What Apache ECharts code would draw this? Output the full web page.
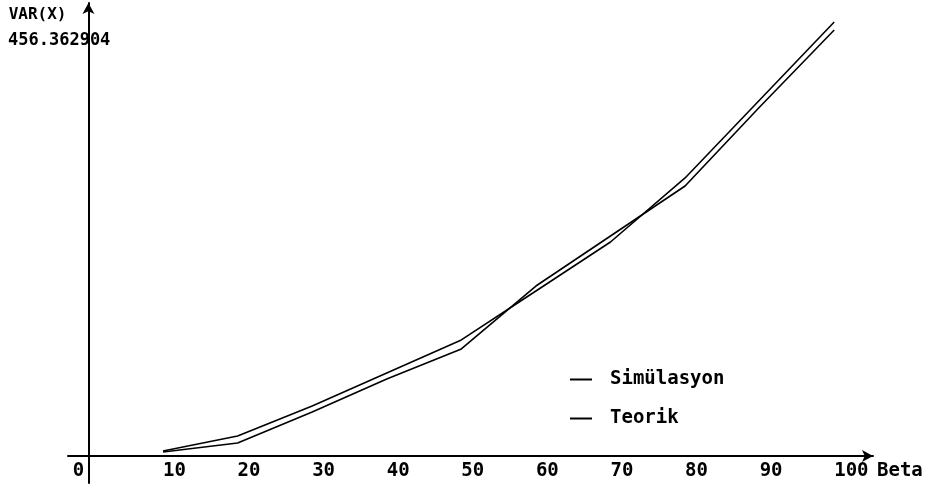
<!DOCTYPE html>
<html>
<head>
<meta charset="utf-8">
<script src="https://cdn.jsdelivr.net/npm/echarts@6/dist/echarts.min.js"></script>
<style>
  html, body { margin: 0; padding: 0; background: #fff; }
  #chart { width: 928px; height: 493px; }
</style>
</head>
<body>
<div id="chart"></div>
<script>
// values
let betaValues = [10, 20, 30, 40, 50, 60, 70, 80, 90, 100]
let simulasyon = [4.4, 14.3, 48.4, 84.7, 117.7, 186.9, 241.9, 296.9, 383.8, 468.4]
let teorik = [5.5, 22.0, 55.0, 91.3, 127.6, 181.4, 235.3, 305.7, 391.5, 477.2]
let xTickValues = [10, 20, 30, 40, 50, 60, 70, 80, 90, 100]
// the "0" of the origin is printed left of the vertical axis
let originLabelAt = -2.1
let yTickValues = [456.362904]
let yTickLabels = ["456.362904"]

let font = "DejaVu Sans Mono"

let pairs = (xs, ys) => xs.map((x, i) => [x, ys[i]])

let chart = echarts.init(document.getElementById("chart"), null, { renderer: "canvas" })

let axisLine = {
    onZero: true,
    symbol: ["none", "arrow"],
    symbolSize: [9, 11],
    lineStyle: { color: "#000", width: 2 }
}

// labels stay at the grid edge, the lines sit on zero,
// so the label margins account for that gap
let option = {
    backgroundColor: "#fff",
    animation: false,
    grid: { left: 68, right: 55, top: 3, bottom: 10, outerBoundsMode: "none" },
    legend: {
        orient: "vertical",
        left: 565,
        top: 364,
        icon: "rect",
        itemWidth: 22,
        itemHeight: 2,
        itemGap: 18,
        textStyle: {
            fontFamily: font, fontSize: 19, fontWeight: "bold", color: "#000",
            lineHeight: 21, padding: [0, 0, 0, 13]
        },
        data: ["Simülasyon", "Teorik"]
    },
    xAxis: {
        type: "value",
        min: -2.74,
        max: 105.2,
        name: "Beta",
        nameLocation: "end",
        nameGap: 4,
        nameTextStyle: {
            fontFamily: font, fontSize: 19, fontWeight: "bold", color: "#000",
            verticalAlign: "top", padding: [6, 0, 0, 0]
        },
        axisLine: axisLine,
        axisTick: { show: false },
        splitLine: { show: false },
        axisLabel: {
            customValues: [originLabelAt].concat(xTickValues),
            formatter: (v) => v === originLabelAt ? "0" : String(v),
            showMinLabel: true,
            showMaxLabel: true,
            align: "left",
            margin: -21,
            fontFamily: font, fontSize: 19, fontWeight: "bold", color: "#000"
        }
    },
    yAxis: {
        type: "value",
        min: -29.7,
        max: 498.1,
        name: "VAR(X)",
        nameLocation: "end",
        nameGap: -12,
        nameTextStyle: {
            fontFamily: font, fontSize: 16, fontWeight: "bold", color: "#000",
            align: "right", verticalAlign: "middle", padding: [0, 22, 0, 0]
        },
        axisLine: axisLine,
        axisTick: { show: false },
        splitLine: { show: false },
        axisLabel: {
            customValues: yTickValues,
            formatter: (v) => yTickLabels[yTickValues.indexOf(v)] ?? "",
            align: "left",
            margin: 60,
            fontFamily: font, fontSize: 17, fontWeight: "bold", color: "#000"
        }
    },
    series: [{
        name: "Simülasyon",
        type: "line",
        data: pairs(betaValues, simulasyon),
        showSymbol: false,
        symbol: "none",
        color: "#000",
        lineStyle: { color: "#000", width: 1.6 }
    }, {
        name: "Teorik",
        type: "line",
        data: pairs(betaValues, teorik),
        showSymbol: false,
        symbol: "none",
        color: "#000",
        lineStyle: { color: "#000", width: 1.6 }
    }]
}

chart.setOption(option)
</script>
</body>
</html>
